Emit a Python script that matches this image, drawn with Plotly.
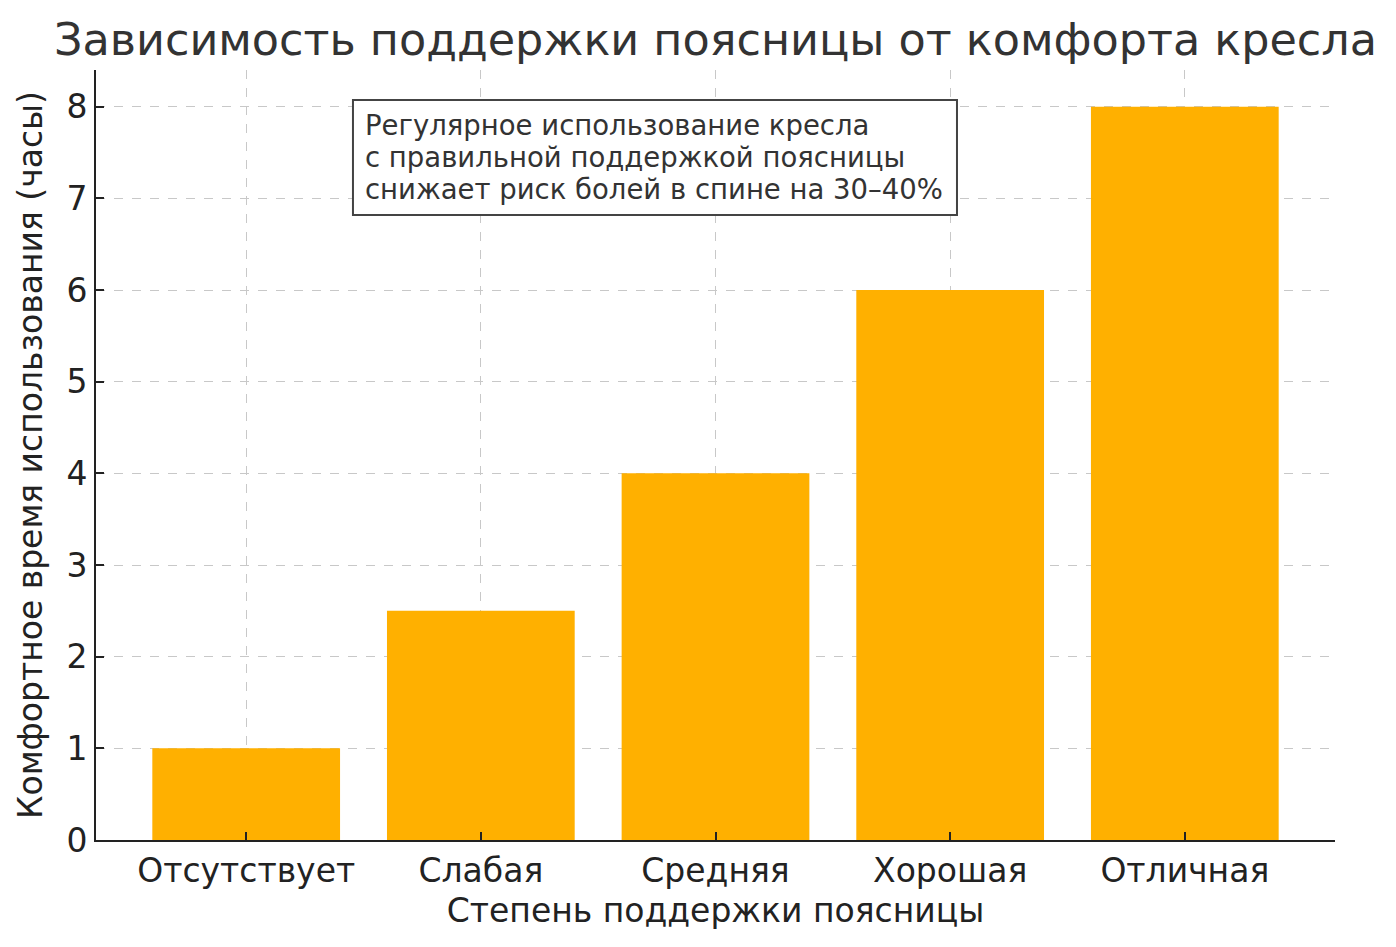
import plotly.graph_objects as go

categories = ["Отсутствует", "Слабая", "Средняя", "Хорошая", "Отличная"]
hours = [1, 2.5, 4, 6, 8]
y_ticks = [0, 1, 2, 3, 4, 5, 6, 7, 8]

title = "Зависимость поддержки поясницы от комфорта кресла"
x_title = "Степень поддержки поясницы"
y_title = "Комфортное время использования (часы)"
note_lines = [
    "Регулярное использование кресла",
    "с правильной поддержкой поясницы",
    "снижает риск болей в спине на 30–40%",
]

font = "DejaVu Sans"

fig = go.Figure(go.Bar(x=categories, y=hours, marker_color="#FFB000", marker_line_width=0))

# page has an 8px body margin, so margins are shifted to compensate
fig.update_layout(
    width=1396,
    height=947,
    paper_bgcolor="white",
    plot_bgcolor="white",
    font=dict(family=font, size=27.8, color="#222"),
    margin=dict(l=88, r=69, t=62, b=115),
    bargap=0.2,
    showlegend=False,
    title=dict(text=title, x=0.5, xref="paper", xanchor="center", y=0.967, yanchor="middle",
               font=dict(family=font, size=44.5, color="#333")),
)

# note box: white rectangle with a border, text lines placed on top
fig.add_shape(
    type="rect", xref="paper", yref="paper", x0=0.2074, x1=0.6949, y0=0.8117, y1=0.961,
    line=dict(color="#444", width=2), fillcolor="white", layer="above",
)
for i, line in enumerate(note_lines):
    fig.add_annotation(
        text=line, xref="paper", yref="paper", x=0.2155, y=0.9286 - i * 0.0416,
        xanchor="left", yanchor="middle", align="left", showarrow=False,
        font=dict(family=font, size=27.5, color="#333"),
    )

fig.update_xaxes(
    title=dict(text=x_title, standoff=10),
    range=[-0.64, 4.64],
    tickfont=dict(family=font, size=33, color="#222"),
    showline=True, linecolor="#222", linewidth=2,
    ticks="inside", ticklen=8, tickwidth=1.5, tickcolor="#222",
    showgrid=True, gridcolor="#c8c8c8", griddash="dash", gridwidth=1,
)
fig.update_yaxes(
    title=dict(text=y_title, standoff=14),
    range=[0, 8.4], tickvals=y_ticks,
    tickfont=dict(family=font, size=33, color="#222"),
    showline=True, linecolor="#222", linewidth=2, zeroline=False,
    ticks="inside", ticklen=8, tickwidth=1.5, tickcolor="#222",
    showgrid=True, gridcolor="#c8c8c8", griddash="dash", gridwidth=1,
)

fig.write_html("out.html")
